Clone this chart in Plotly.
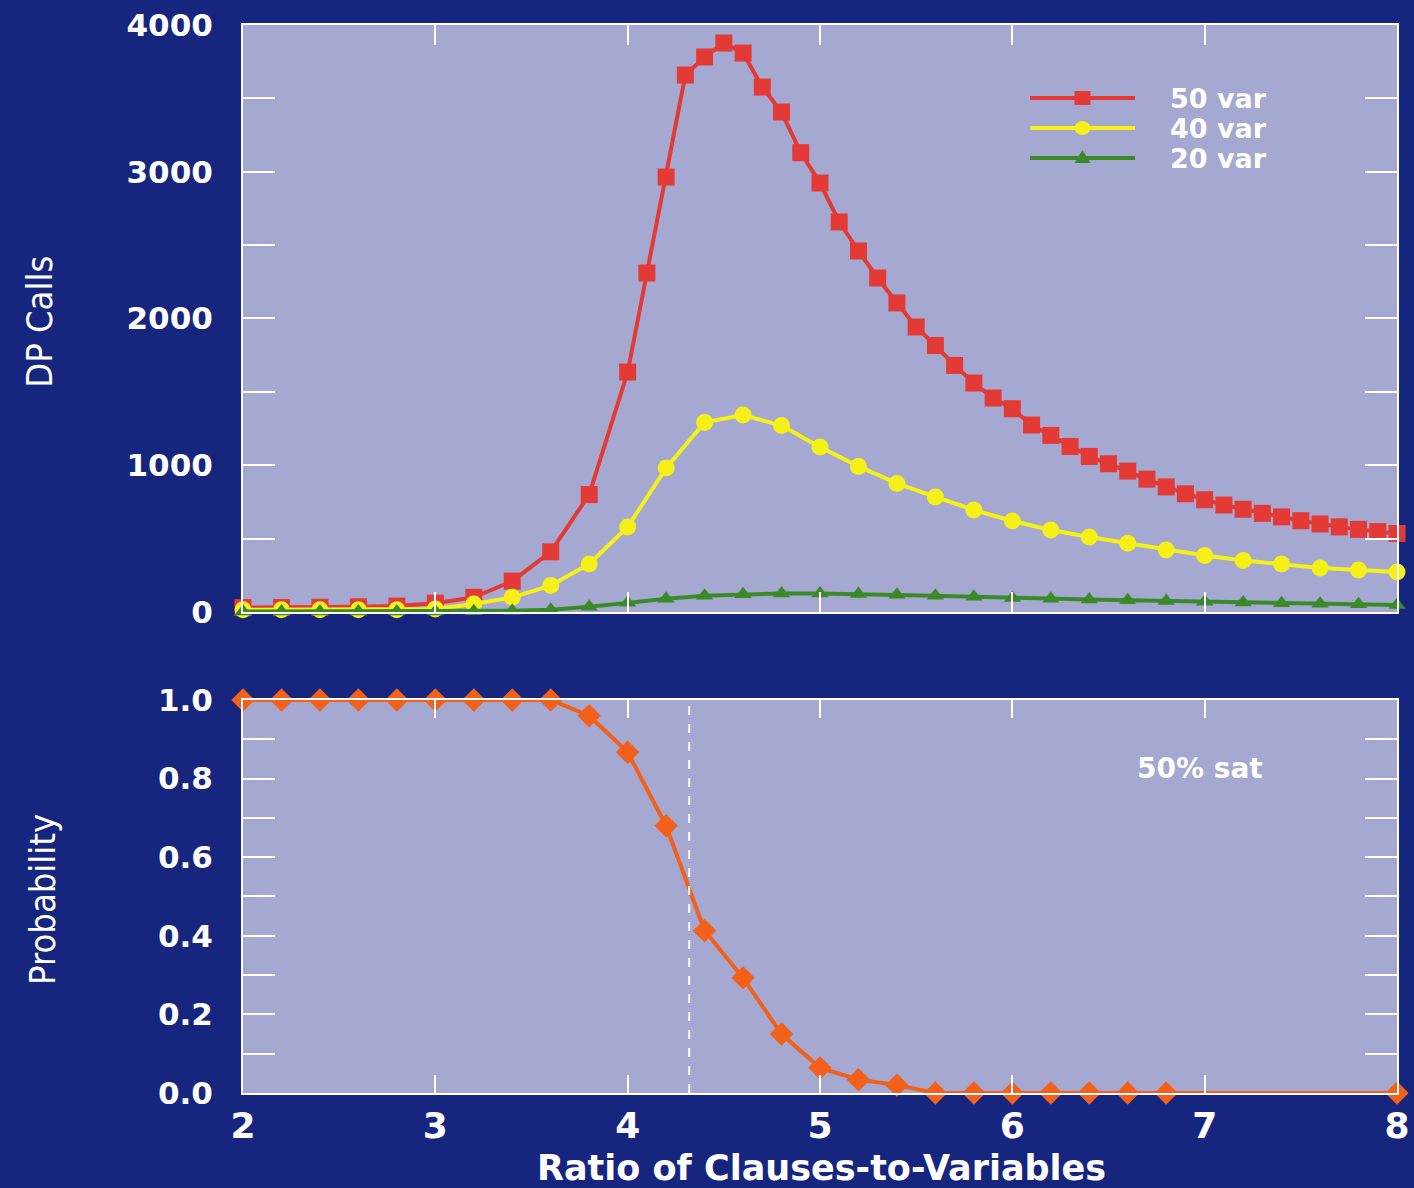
import plotly.graph_objects as go

# ---------------- data ----------------
x_50 = [2.0, 2.2, 2.4, 2.6, 2.8, 3.0, 3.2, 3.4, 3.6, 3.8, 4.0,
        4.1, 4.2, 4.3, 4.4, 4.5, 4.6, 4.7, 4.8, 4.9, 5.0,
        5.1, 5.2, 5.3, 5.4, 5.5, 5.6, 5.7, 5.8, 5.9, 6.0,
        6.1, 6.2, 6.3, 6.4, 6.5, 6.6, 6.7, 6.8, 6.9, 7.0,
        7.1, 7.2, 7.3, 7.4, 7.5, 7.6, 7.7, 7.8, 7.9, 8.0]
dp_50 = [30, 30, 32, 35, 40, 60, 100, 210, 410, 800, 1635,
         2310, 2964, 3659, 3782, 3877, 3809, 3577, 3407, 3130, 2923,
         2658, 2460, 2276, 2106, 1942, 1816, 1680, 1560, 1458, 1385,
         1274, 1203, 1128, 1060, 1010, 960, 905, 852, 805, 765,
         729, 700, 672, 648, 622, 600, 580, 563, 548, 535]

x_40 = [2.0, 2.2, 2.4, 2.6, 2.8, 3.0, 3.2, 3.4, 3.6, 3.8, 4.0,
        4.2, 4.4, 4.6, 4.8, 5.0, 5.2, 5.4, 5.6, 5.8, 6.0,
        6.2, 6.4, 6.6, 6.8, 7.0, 7.2, 7.4, 7.6, 7.8, 8.0]
dp_40 = [15, 15, 15, 15, 15, 20, 55, 100, 180, 327, 579,
         981, 1292, 1342, 1270, 1124, 992, 876, 784, 695, 620,
         559, 511, 468, 422, 385, 351, 327, 300, 286, 273]

x_20 = x_40
dp_20 = [3, 3, 3, 3, 3, 3, 5, 8, 15, 35, 62,
         90, 110, 120, 126, 126, 122, 117, 110, 103, 95,
         90, 85, 80, 75, 70, 65, 60, 56, 52, 48]

x_prob = [2.0, 2.2, 2.4, 2.6, 2.8, 3.0, 3.2, 3.4, 3.6, 3.8, 4.0,
          4.2, 4.4, 4.6, 4.8, 5.0, 5.2, 5.4, 5.6, 5.8, 6.0,
          6.2, 6.4, 6.6, 6.8, 8.0]
prob_sat = [1.0, 1.0, 1.0, 1.0, 1.0, 1.0, 1.0, 1.0, 1.0, 0.96, 0.867,
            0.68, 0.413, 0.293, 0.15, 0.064, 0.034, 0.02, 0.0, 0.0, 0.0,
            0.0, 0.0, 0.0, 0.0, 0.0]

threshold_ratio = 4.32
series_names = ["50 var", "40 var", "20 var"]

# ---------------- style ----------------
NAVY = "#16257D"
PLOT_BG = "#A5A8D0"
RED = "#E43A36"
YELLOW = "#F4F018"
GREEN = "#3B8A2A"
ORANGE = "#F2601A"
WHITE = "white"
BOLD = dict(family="DejaVu Sans", color=WHITE, weight="bold")
NARROW = "Liberation Sans Narrow, DejaVu Sans Condensed, Arial Narrow, Liberation Sans, sans-serif"

FINAL_W, FINAL_H = 1414, 1188
INIT_W, INIT_H = FINAL_W - 16, FINAL_H - 16

fig = go.Figure()

fig.add_trace(go.Scatter(x=x_50, y=dp_50, mode="lines+markers", name=series_names[0],
                         line=dict(color=RED, width=4),
                         marker=dict(symbol="square", size=17, color=RED),
                         cliponaxis=False, xaxis="x", yaxis="y"))
fig.add_trace(go.Scatter(x=x_40, y=dp_40, mode="lines+markers", name=series_names[1],
                         line=dict(color=YELLOW, width=4),
                         marker=dict(symbol="circle", size=17, color=YELLOW),
                         cliponaxis=False, xaxis="x", yaxis="y"))
fig.add_trace(go.Scatter(x=x_20, y=dp_20, mode="lines+markers", name=series_names[2],
                         line=dict(color=GREEN, width=4),
                         marker=dict(symbol="triangle-up", size=15, color=GREEN),
                         cliponaxis=False, xaxis="x", yaxis="y"))
fig.add_trace(go.Scatter(x=x_prob, y=prob_sat, mode="lines+markers", name="P(sat)",
                         line=dict(color=ORANGE, width=4),
                         marker=dict(symbol="diamond", size=18, color=ORANGE),
                         cliponaxis=False, xaxis="x2", yaxis="y2"))

axis_common = dict(showline=True, linecolor=WHITE, linewidth=2, mirror="ticks",
                   ticks="inside", tickcolor=WHITE, tickwidth=2, showgrid=False,
                   zeroline=False, automargin=False, ticklabeloverflow="allow")

fig.update_layout(
    width=INIT_W, height=INIT_H,
    paper_bgcolor=NAVY, plot_bgcolor=PLOT_BG,
    margin=dict(l=243, r=17, t=25, b=95, autoexpand=False),
    showlegend=False,
    xaxis=dict(axis_common, domain=[0, 1], range=[2, 8], dtick=1, ticklen=20,
               showticklabels=False, anchor="y"),
    yaxis=dict(axis_common, domain=[0.4504, 1.0], range=[0, 4000], dtick=1000,
               ticklen=32, minor=dict(dtick=500, ticklen=32, tickcolor=WHITE, tickwidth=2,
                                      ticks="inside"),
               tickfont=dict(BOLD, size=31), ticklabelstandoff=22, anchor="x"),
    xaxis2=dict(axis_common, domain=[0, 1], range=[2, 8], dtick=1, ticklen=18,
                tickfont=dict(BOLD, size=36), ticklabelstandoff=0, anchor="y2"),
    yaxis2=dict(axis_common, domain=[0.0, 0.368], range=[0, 1], dtick=0.2,
                tickformat=".1f", ticklen=32,
                minor=dict(dtick=0.1, ticklen=32, tickcolor=WHITE, tickwidth=2,
                           ticks="inside"),
                tickfont=dict(BOLD, size=31), ticklabelstandoff=22, anchor="x2"),
)

# threshold dashed line
fig.add_shape(type="line", xref="x2", yref="y2 domain", x0=threshold_ratio, x1=threshold_ratio,
              y0=0, y1=1, line=dict(color=WHITE, width=2, dash="dash"))

# custom legend (line samples + markers + labels)
leg_colors = [RED, YELLOW, GREEN]
leg_y = [0.8756, 0.8245, 0.7734]
leg_x0, leg_x1, leg_xc, leg_xt = 0.682, 0.773, 0.7275, 0.8016
for i, (name, col, yy) in enumerate(zip(series_names, leg_colors, leg_y)):
    fig.add_shape(type="line", xref="x domain", yref="y domain",
                  x0=leg_x0, x1=leg_x1, y0=yy, y1=yy, line=dict(color=col, width=4))
    if i == 0:
        fig.add_shape(type="rect", xref="x domain", yref="y domain",
                      xsizemode="pixel", ysizemode="pixel", xanchor=leg_xc, yanchor=yy,
                      x0=-8, x1=8, y0=-7, y1=7, fillcolor=col, line=dict(width=0))
    elif i == 1:
        fig.add_shape(type="circle", xref="x domain", yref="y domain",
                      xsizemode="pixel", ysizemode="pixel", xanchor=leg_xc, yanchor=yy,
                      x0=-8, x1=8, y0=-7, y1=7, fillcolor=col, line=dict(width=0))
    else:
        fig.add_shape(type="path", xref="x domain", yref="y domain",
                      xsizemode="pixel", ysizemode="pixel", xanchor=leg_xc, yanchor=yy,
                      path="M -8 -5 L 8 -5 L 0 8 Z", fillcolor=col, line=dict(width=0))
    fig.add_annotation(text=name, xref="x domain", yref="y domain", x=leg_xt, y=yy,
                       xanchor="left", yanchor="middle", showarrow=False,
                       font=dict(BOLD, size=27))

# axis titles and label
fig.add_annotation(text="DP Calls", xref="paper", yref="paper", x=-0.176, y=0.722,
                   textangle=-90, showarrow=False, xanchor="center", yanchor="middle",
                   font=dict(family=NARROW, color=WHITE, size=36))
fig.add_annotation(text="Probability", xref="paper", yref="paper", x=-0.174, y=0.181,
                   textangle=-90, showarrow=False, xanchor="center", yanchor="middle",
                   font=dict(family=NARROW, color=WHITE, size=36))
fig.add_annotation(text="Ratio of Clauses-to-Variables", xref="paper", yref="paper",
                   x=0.5017, y=-0.0702, showarrow=False, xanchor="center", yanchor="middle",
                   font=dict(BOLD, size=35))
fig.add_annotation(text="50% sat", xref="paper", yref="paper", x=0.829, y=0.3034,
                   showarrow=False, xanchor="center", yanchor="middle",
                   font=dict(BOLD, size=28))

post = (
    "document.body.style.margin='0';document.body.style.padding='0';"
    "document.documentElement.style.overflow='hidden';"
    "document.body.style.background='%s';"
    "Plotly.relayout('{plot_id}', {width: %d, height: %d});" % (NAVY, FINAL_W, FINAL_H)
)

fig.write_html("out.html", config={"displayModeBar": False, "staticPlot": True},
               post_script=post)
